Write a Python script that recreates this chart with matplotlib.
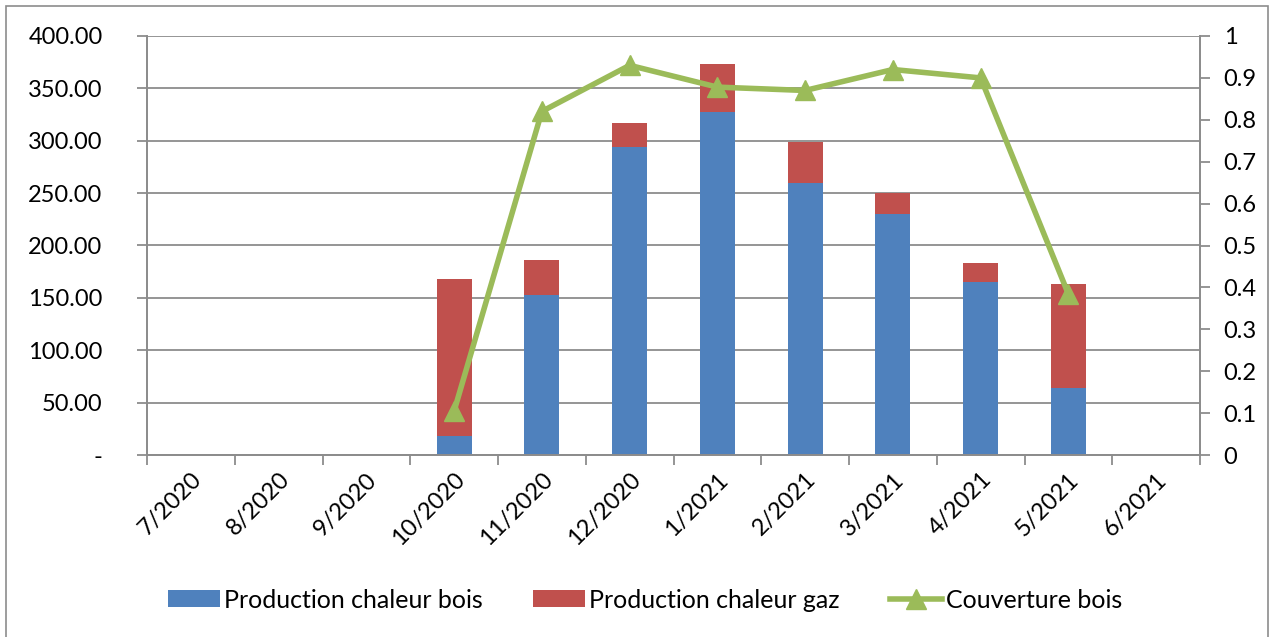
import numpy as np
import matplotlib.pyplot as plt
from matplotlib.patches import Rectangle

# Data
months = ['7/2020', '8/2020', '9/2020', '10/2020', '11/2020', '12/2020',
          '1/2021', '2/2021', '3/2021', '4/2021', '5/2021', '6/2021']
bois = [0, 0, 0, 18, 153, 294, 327, 260, 230, 165, 64, 0]
gaz = [0, 0, 0, 150, 33, 23, 46, 39, 20, 18, 99, 0]
couverture = [np.nan, np.nan, np.nan, 0.105, 0.82, 0.93, 0.878, 0.87, 0.92, 0.90, 0.384, np.nan]

plt.rcParams['font.family'] = ['Lato', 'DejaVu Sans']

fig = plt.figure(figsize=(12.72, 6.37), dpi=100)
# chart border
fig.patches.append(Rectangle((6/1272, 1 - 700/637), 1262/1272, 694/637, transform=fig.transFigure,
                             fill=False, edgecolor='#8c8c8c', linewidth=1.2))

ax = fig.add_axes([147/1272, 1 - 455/637, (1200-147)/1272, (455-36)/637])
x = np.arange(len(months))
blue = '#4f81bd'
red = '#c0504d'
green = '#9bbb59'
grid_c = '#8c8c8c'
fs = 17

ax.bar(x, bois, width=0.4, color=blue, label='Production chaleur bois', zorder=2)
ax.bar(x, gaz, width=0.4, bottom=bois, color=red, label='Production chaleur gaz', zorder=2)

ax.set_xlim(-0.5, len(months) - 0.5)
ax.set_ylim(0, 400)
ax.set_yticks(np.arange(0, 401, 50))
ax.set_yticklabels(['-'] + ['%.2f' % v for v in np.arange(50, 401, 50)], fontsize=fs)
ax.yaxis.grid(True, color=grid_c, linewidth=1.3, zorder=0)
ax.set_axisbelow(True)
ax.set_xticks(x)
ax.set_xticklabels(months, rotation=45, ha='right', rotation_mode='anchor', fontsize=fs)
ax.set_xticks(np.arange(-0.5, len(months)), minor=True)
ax.tick_params(axis='x', which='major', length=0, pad=10)
ax.tick_params(axis='x', which='minor', length=7, color=grid_c, width=1.3)
ax.tick_params(axis='y', length=7, color=grid_c, width=1.3, direction='out', pad=25)
ax.spines['top'].set_visible(False)
for s in ['left', 'bottom', 'right']:
    ax.spines[s].set_color(grid_c)
    ax.spines[s].set_linewidth(1.3)

ax2 = ax.twinx()
ax2.plot(x, couverture, color=green, linewidth=4, marker='^', markersize=14,
         label='Couverture bois', zorder=3)
ax2.set_ylim(0, 1)
ax2.set_yticks(np.arange(0, 1.01, 0.1))
ax2.set_yticklabels(['0', '0.1', '0.2', '0.3', '0.4', '0.5', '0.6', '0.7', '0.8', '0.9', '1'], fontsize=fs)
ax2.tick_params(axis='y', length=7, color=grid_c, width=1.3, direction='out', pad=10)
ax2.spines['top'].set_visible(False)
for s in ['left', 'bottom', 'right']:
    ax2.spines[s].set_color(grid_c)
    ax2.spines[s].set_linewidth(1.3)

h1, l1 = ax.get_legend_handles_labels()
h2, l2 = ax2.get_legend_handles_labels()
fig.legend(h1 + h2, l1 + l2, loc='center', bbox_to_anchor=(0.5 + 9/1272, 1 - 600/637), ncol=3,
           frameon=False, fontsize=18, handlelength=2.1, handleheight=0.65,
           columnspacing=2.0, handletextpad=0.15)

fig.savefig('out.png', dpi=100)
